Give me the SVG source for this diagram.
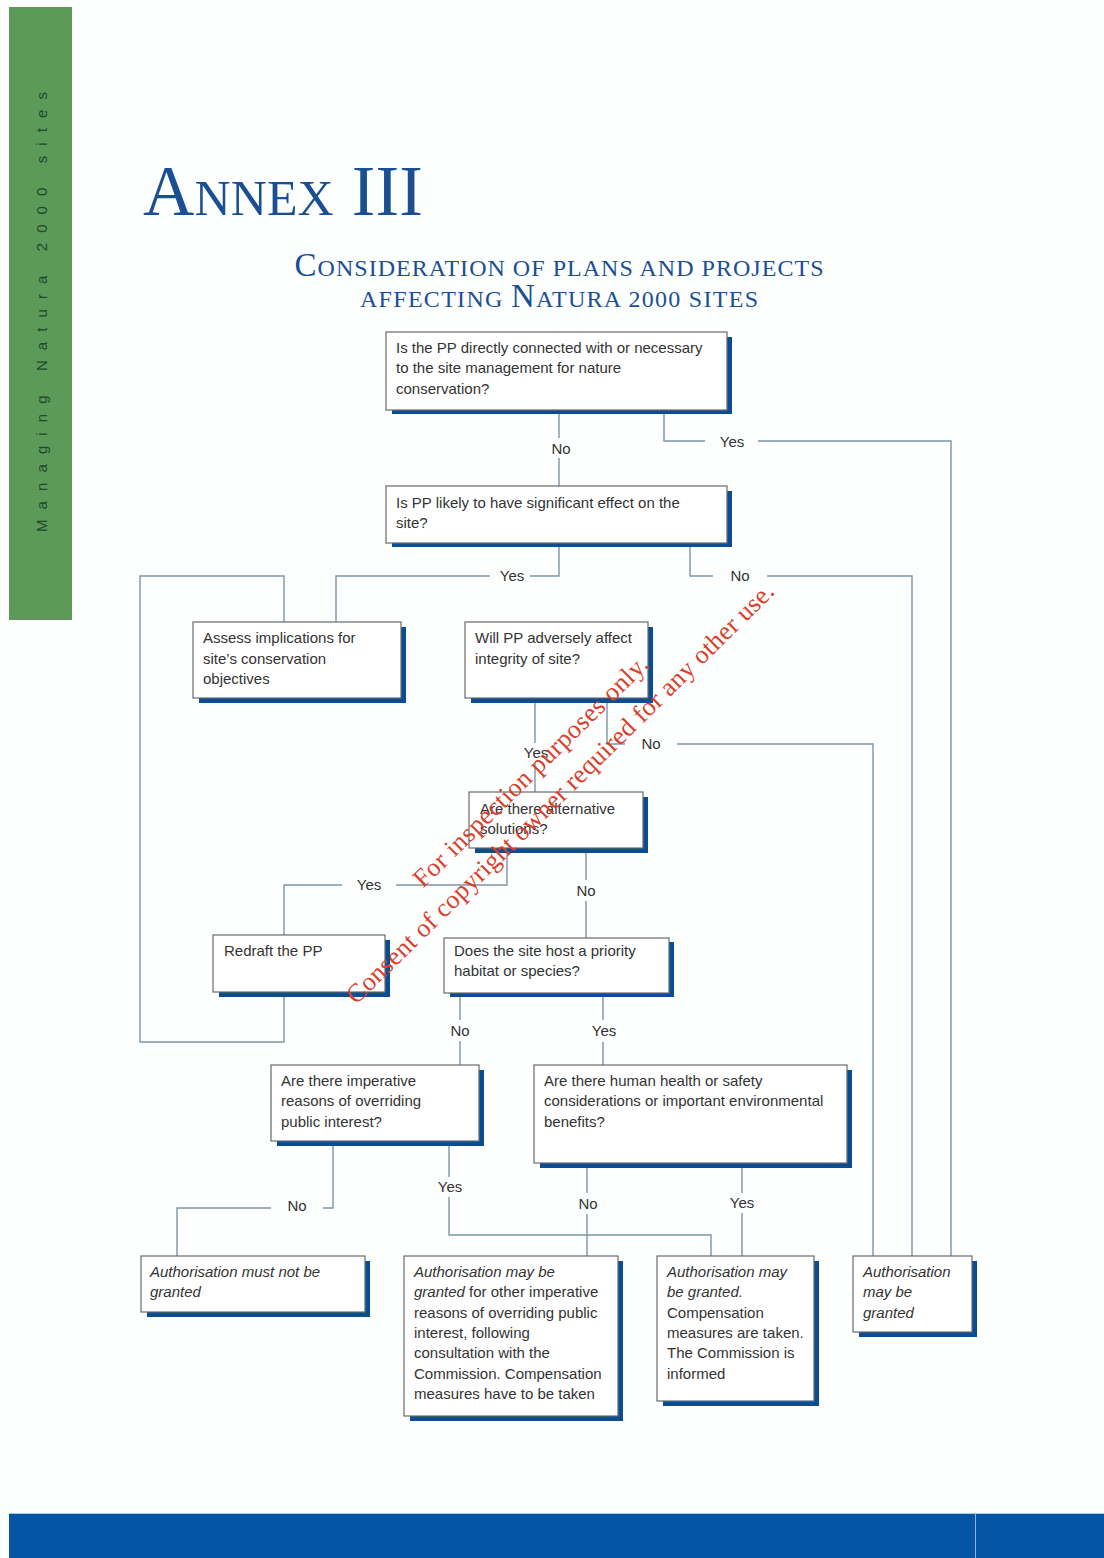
<svg xmlns="http://www.w3.org/2000/svg" width="1104" height="1558" viewBox="0 0 1104 1558">
<style>
.box{fill:#ffffff;stroke:#6a6a6a;stroke-width:1.2}
.sh{fill:#0b4d94}
.t{font-family:"Liberation Sans",Arial,sans-serif;font-size:15px;fill:#333333}
.i{font-style:italic}
.lbl{font-family:"Liberation Sans",Arial,sans-serif;font-size:15px;fill:#333333;text-anchor:middle}
.con path{fill:none;stroke:#7d95a6;stroke-width:1.4}
.title{font-family:"Liberation Serif","Times New Roman",serif;fill:#1b4f94}
.wm{font-family:"Liberation Serif","Times New Roman",serif;font-size:26px;fill:#d8402c;text-anchor:middle}
</style>
<rect x="0" y="0" width="1104" height="1558" fill="#fdfefe"/>
<g id="sidebar">
<rect x="9" y="7" width="63" height="613" fill="#5b9a58"/>
<text transform="translate(47,532) rotate(-90)" font-family="Liberation Sans,Arial,sans-serif" font-size="15" fill="#24482a" textLength="440" lengthAdjust="spacing">Managing Natura 2000 sites</text>
</g>
<g id="bottombar">
<rect x="9" y="1513" width="1095" height="45" fill="#0455a4"/>
<line x1="9" y1="1513.5" x2="1104" y2="1513.5" stroke="#9fd0e8" stroke-width="1"/>
<line x1="975.5" y1="1513" x2="975.5" y2="1558" stroke="#8fb6dc" stroke-width="1"/>
</g>
<g id="title">
<text class="title" x="143" y="215" textLength="280" lengthAdjust="spacing"><tspan font-size="71">A</tspan><tspan font-size="50">NNEX</tspan><tspan font-size="71"> III</tspan></text>
<text class="title" x="559" y="276" text-anchor="middle" textLength="529" lengthAdjust="spacing"><tspan font-size="33">C</tspan><tspan font-size="24">ONSIDERATION OF PLANS AND PROJECTS</tspan></text>
<text class="title" x="559" y="307" text-anchor="middle" textLength="398" lengthAdjust="spacing"><tspan font-size="24">AFFECTING </tspan><tspan font-size="33">N</tspan><tspan font-size="24">ATURA 2000 SITES</tspan></text>
</g>
<g id="connectors" class="con">
<path d="M559 410V438M559 458V486"/>
<path d="M664 414V441H705M758 441H951V1256"/>
<path d="M559 547V576H530M490 576H336V622"/>
<path d="M690 547V576H713M767 576H912V1256"/>
<path d="M284 622V576H140V1042H284V997"/>
<path d="M535 703V743M535 763V792"/>
<path d="M607 703V744H625M677 744H873V1256"/>
<path d="M507 853V885H396M342 885H284V935"/>
<path d="M586 853V880M586 901V938"/>
<path d="M460 997V1020M460 1041V1065"/>
<path d="M603 997V1020M603 1042V1065"/>
<path d="M333 1146V1208H323M271 1208H177V1256"/>
<path d="M449 1146V1177M449 1197V1235H711V1256"/>
<path d="M587 1168V1193M587 1214V1256"/>
<path d="M742 1168V1193M742 1213V1256"/>
</g>
<g id="labels">
<text class="lbl" x="561" y="454">No</text>
<text class="lbl" x="732" y="447">Yes</text>
<text class="lbl" x="512" y="581">Yes</text>
<text class="lbl" x="740" y="581">No</text>
<text class="lbl" x="536" y="758">Yes</text>
<text class="lbl" x="651" y="749">No</text>
<text class="lbl" x="369" y="890">Yes</text>
<text class="lbl" x="586" y="896">No</text>
<text class="lbl" x="460" y="1036">No</text>
<text class="lbl" x="604" y="1036">Yes</text>
<text class="lbl" x="297" y="1211">No</text>
<text class="lbl" x="450" y="1192">Yes</text>
<text class="lbl" x="588" y="1209">No</text>
<text class="lbl" x="742" y="1208">Yes</text>
</g>
<g id="n1">
<rect class="sh" x="392" y="337" width="340" height="77"/>
<rect class="box" x="386" y="332" width="341" height="78"/>
<text class="t" x="396" y="353">Is the PP directly connected with or necessary</text>
<text class="t" x="396" y="373">to the site management for nature</text>
<text class="t" x="396" y="394">conservation?</text>
</g>
<g id="n2">
<rect class="sh" x="392" y="491" width="340" height="56"/>
<rect class="box" x="386" y="486" width="341" height="57"/>
<text class="t" x="396" y="508">Is PP likely to have significant effect on the</text>
<text class="t" x="396" y="528">site?</text>
</g>
<g id="n3">
<rect class="sh" x="199" y="627" width="207" height="76"/>
<rect class="box" x="193" y="622" width="208" height="76"/>
<text class="t" x="203" y="643">Assess implications for</text>
<text class="t" x="203" y="664">site’s conservation</text>
<text class="t" x="203" y="684">objectives</text>
</g>
<g id="n4">
<rect class="sh" x="471" y="627" width="182" height="76"/>
<rect class="box" x="465" y="622" width="183" height="76"/>
<text class="t" x="475" y="643">Will PP adversely affect</text>
<text class="t" x="475" y="664">integrity of site?</text>
</g>
<g id="n5">
<rect class="sh" x="475" y="797" width="173" height="56"/>
<rect class="box" x="469" y="792" width="174" height="56"/>
<text class="t" x="480" y="814">Are there alternative</text>
<text class="t" x="480" y="834">solutions?</text>
</g>
<g id="n6">
<rect class="sh" x="219" y="940" width="171" height="57"/>
<rect class="box" x="213" y="935" width="172" height="57"/>
<text class="t" x="224" y="956">Redraft the PP</text>
</g>
<g id="n7">
<rect class="sh" x="450" y="942" width="224" height="55"/>
<rect class="box" x="444" y="938" width="225" height="55"/>
<text class="t" x="454" y="956">Does the site host a priority</text>
<text class="t" x="454" y="976">habitat or species?</text>
</g>
<g id="n8">
<rect class="sh" x="277" y="1070" width="207" height="76"/>
<rect class="box" x="271" y="1065" width="208" height="76"/>
<text class="t" x="281" y="1086">Are there imperative</text>
<text class="t" x="281" y="1106">reasons of overriding</text>
<text class="t" x="281" y="1127">public interest?</text>
</g>
<g id="n9">
<rect class="sh" x="540" y="1070" width="312" height="98"/>
<rect class="box" x="534" y="1065" width="313" height="98"/>
<text class="t" x="544" y="1086">Are there human health or safety</text>
<text class="t" x="544" y="1106">considerations or important environmental</text>
<text class="t" x="544" y="1127">benefits?</text>
</g>
<g id="n10">
<rect class="sh" x="147" y="1261" width="223" height="56"/>
<rect class="box" x="141" y="1256" width="224" height="56"/>
<text class="t i" x="150" y="1277">Authorisation must not be</text>
<text class="t i" x="150" y="1297">granted</text>
</g>
<g id="n11">
<rect class="sh" x="410" y="1261" width="213" height="160"/>
<rect class="box" x="404" y="1256" width="214" height="160"/>
<text class="t i" x="414" y="1277">Authorisation may be</text>
<text class="t" x="414" y="1297"><tspan class="i">granted</tspan> for other imperative</text>
<text class="t" x="414" y="1318">reasons of overriding public</text>
<text class="t" x="414" y="1338">interest, following</text>
<text class="t" x="414" y="1358">consultation with the</text>
<text class="t" x="414" y="1379">Commission. Compensation</text>
<text class="t" x="414" y="1399">measures have to be taken</text>
</g>
<g id="n12">
<rect class="sh" x="663" y="1261" width="156" height="145"/>
<rect class="box" x="657" y="1256" width="157" height="145"/>
<text class="t i" x="667" y="1277">Authorisation may</text>
<text class="t i" x="667" y="1297">be granted.</text>
<text class="t" x="667" y="1318">Compensation</text>
<text class="t" x="667" y="1338">measures are taken.</text>
<text class="t" x="667" y="1358">The Commission is</text>
<text class="t" x="667" y="1379">informed</text>
</g>
<g id="n13">
<rect class="sh" x="859" y="1261" width="118" height="76"/>
<rect class="box" x="853" y="1256" width="119" height="76"/>
<text class="t i" x="863" y="1277">Authorisation</text>
<text class="t i" x="863" y="1297">may be</text>
<text class="t i" x="863" y="1318">granted</text>
</g>
<g id="watermark">
<text class="wm" transform="rotate(-44.5 535 776)" x="535" y="778" textLength="318" lengthAdjust="spacing">For inspection purposes only.</text>
<text class="wm" transform="rotate(-44.5 559 792)" x="559" y="802" textLength="588" lengthAdjust="spacing">Consent of copyright owner required for any other use.</text>
</g>
</svg>
